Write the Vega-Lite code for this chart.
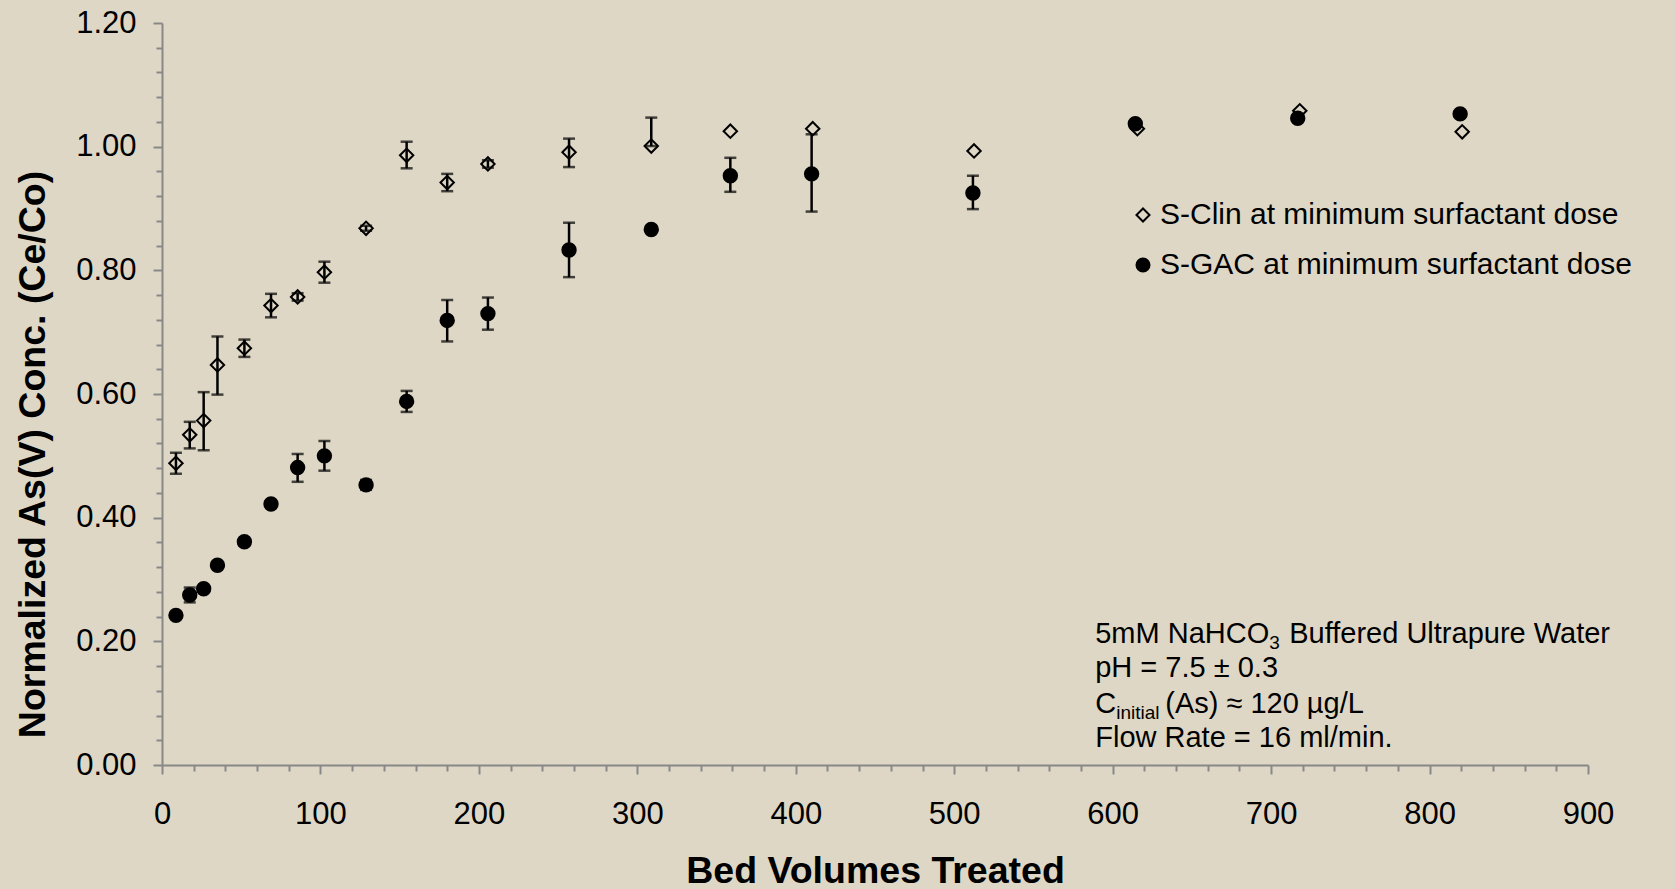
{
  "$schema": "https://vega.github.io/schema/vega-lite/v6.json",
  "width": 1426,
  "height": 742,
  "autosize": "none",
  "padding": {"left": 162, "top": 23, "right": 87, "bottom": 124},
  "background": "#DED7C5",
  "config": {
    "view": {"stroke": null},
    "font": "Liberation Sans",
    "errorbar": {"thickness": 2.5},
    "axis": {
      "grid": false,
      "domainColor": "#888888",
      "domainWidth": 2,
      "tickColor": "#888888",
      "tickWidth": 2,
      "labelColor": "#000000",
      "labelFont": "Liberation Sans",
      "labelFontSize": 31,
      "labelOverlap": false,
      "labelBound": false,
      "labelFlush": false,
      "titleColor": "#000000",
      "titleFont": "Liberation Sans",
      "titleFontWeight": "bold",
      "titleFontSize": 37.5
    }
  },
  "datasets": {
    "pts": [
      {"series": "S-Clin at minimum surfactant dose", "bv": 8.8, "conc": 0.488, "lo": 0.471, "hi": 0.505},
      {"series": "S-Clin at minimum surfactant dose", "bv": 17.5, "conc": 0.534, "lo": 0.512, "hi": 0.555},
      {"series": "S-Clin at minimum surfactant dose", "bv": 26.3, "conc": 0.557, "lo": 0.509, "hi": 0.603},
      {"series": "S-Clin at minimum surfactant dose", "bv": 35, "conc": 0.647, "lo": 0.599, "hi": 0.693},
      {"series": "S-Clin at minimum surfactant dose", "bv": 52, "conc": 0.674, "lo": 0.660, "hi": 0.688},
      {"series": "S-Clin at minimum surfactant dose", "bv": 68.8, "conc": 0.743, "lo": 0.724, "hi": 0.762},
      {"series": "S-Clin at minimum surfactant dose", "bv": 85.6, "conc": 0.757, "lo": 0.751, "hi": 0.763},
      {"series": "S-Clin at minimum surfactant dose", "bv": 102.5, "conc": 0.797, "lo": 0.780, "hi": 0.814},
      {"series": "S-Clin at minimum surfactant dose", "bv": 128.8, "conc": 0.868, "lo": 0.864, "hi": 0.872},
      {"series": "S-Clin at minimum surfactant dose", "bv": 154.4, "conc": 0.986, "lo": 0.965, "hi": 1.008},
      {"series": "S-Clin at minimum surfactant dose", "bv": 180, "conc": 0.942, "lo": 0.928, "hi": 0.956},
      {"series": "S-Clin at minimum surfactant dose", "bv": 205.7, "conc": 0.972, "lo": 0.966, "hi": 0.978},
      {"series": "S-Clin at minimum surfactant dose", "bv": 256.9, "conc": 0.991, "lo": 0.967, "hi": 1.013},
      {"series": "S-Clin at minimum surfactant dose", "bv": 308.8, "conc": 1.001, "lo": 1.001, "hi": 1.047},
      {"series": "S-Clin at minimum surfactant dose", "bv": 358.7, "conc": 1.025, "lo": null, "hi": null},
      {"series": "S-Clin at minimum surfactant dose", "bv": 410.7, "conc": 1.029, "lo": null, "hi": null},
      {"series": "S-Clin at minimum surfactant dose", "bv": 512.5, "conc": 0.993, "lo": null, "hi": null},
      {"series": "S-Clin at minimum surfactant dose", "bv": 615.6, "conc": 1.029, "lo": null, "hi": null},
      {"series": "S-Clin at minimum surfactant dose", "bv": 718.1, "conc": 1.058, "lo": null, "hi": null},
      {"series": "S-Clin at minimum surfactant dose", "bv": 820.6, "conc": 1.024, "lo": null, "hi": null},
      {"series": "S-GAC at minimum surfactant dose", "bv": 8.8, "conc": 0.242, "lo": null, "hi": null},
      {"series": "S-GAC at minimum surfactant dose", "bv": 17.5, "conc": 0.275, "lo": 0.263, "hi": 0.287},
      {"series": "S-GAC at minimum surfactant dose", "bv": 26.3, "conc": 0.285, "lo": null, "hi": null},
      {"series": "S-GAC at minimum surfactant dose", "bv": 35, "conc": 0.323, "lo": null, "hi": null},
      {"series": "S-GAC at minimum surfactant dose", "bv": 52, "conc": 0.361, "lo": 0.355, "hi": 0.367},
      {"series": "S-GAC at minimum surfactant dose", "bv": 68.8, "conc": 0.422, "lo": null, "hi": null},
      {"series": "S-GAC at minimum surfactant dose", "bv": 85.6, "conc": 0.481, "lo": 0.458, "hi": 0.503},
      {"series": "S-GAC at minimum surfactant dose", "bv": 102.5, "conc": 0.500, "lo": 0.476, "hi": 0.524},
      {"series": "S-GAC at minimum surfactant dose", "bv": 128.8, "conc": 0.453, "lo": 0.445, "hi": 0.461},
      {"series": "S-GAC at minimum surfactant dose", "bv": 154.4, "conc": 0.588, "lo": 0.571, "hi": 0.605},
      {"series": "S-GAC at minimum surfactant dose", "bv": 180, "conc": 0.719, "lo": 0.685, "hi": 0.752},
      {"series": "S-GAC at minimum surfactant dose", "bv": 205.7, "conc": 0.730, "lo": 0.704, "hi": 0.756},
      {"series": "S-GAC at minimum surfactant dose", "bv": 256.9, "conc": 0.833, "lo": 0.789, "hi": 0.877},
      {"series": "S-GAC at minimum surfactant dose", "bv": 308.8, "conc": 0.866, "lo": 0.861, "hi": 0.871},
      {"series": "S-GAC at minimum surfactant dose", "bv": 358.7, "conc": 0.953, "lo": 0.927, "hi": 0.982},
      {"series": "S-GAC at minimum surfactant dose", "bv": 410.0, "conc": 0.956, "lo": 0.895, "hi": 1.020},
      {"series": "S-GAC at minimum surfactant dose", "bv": 511.8, "conc": 0.925, "lo": 0.899, "hi": 0.953},
      {"series": "S-GAC at minimum surfactant dose", "bv": 614.3, "conc": 1.037, "lo": null, "hi": null},
      {"series": "S-GAC at minimum surfactant dose", "bv": 716.8, "conc": 1.046, "lo": null, "hi": null},
      {"series": "S-GAC at minimum surfactant dose", "bv": 819.3, "conc": 1.053, "lo": null, "hi": null}
    ]
  },
  "layer": [
    {
      "data": {"name": "pts"},
      "transform": [{"filter": "datum.lo != null"}],
      "mark": {
        "type": "errorbar",
        "thickness": 2.5,
        "color": "#000000",
        "ticks": {"size": 12, "thickness": 2.5, "color": "#000000"},
        "rule": {"strokeWidth": 2.5, "color": "#000000"}
      },
      "encoding": {
        "x": {
          "field": "bv", "type": "quantitative",
          "scale": {"domain": [0, 900], "nice": false, "zero": false},
          "axis": {
            "title": "Bed Volumes Treated",
            "values": [0,20,40,60,80,100,120,140,160,180,200,220,240,260,280,300,320,340,360,380,400,420,440,460,480,500,520,540,560,580,600,620,640,660,680,700,720,740,760,780,800,820,840,860,880,900],
            "tickCount": 1000,
            "labelExpr": "round(datum.value) % 100 == 0 ? format(datum.value, 'd') : ''",
            "labelOverlap": false,
            "tickSize": {"condition": {"test": "round(datum.value) % 100 == 0", "value": 9}, "value": 6},
            "labelPadding": 25,
            "titleY": 106,
            "titleBaseline": "middle"
          }
        },
        "y": {
          "field": "lo", "type": "quantitative",
          "scale": {"domain": [0, 1.2], "nice": false, "zero": false},
          "axis": {
            "title": "Normalized As(V) Conc. (Ce/Co)",
            "values": [0,0.04,0.08,0.12,0.16,0.2,0.24,0.28,0.32,0.36,0.4,0.44,0.48,0.52,0.56,0.6,0.64,0.68,0.72,0.76,0.8,0.84,0.88,0.92,0.96,1,1.04,1.08,1.12,1.16,1.2],
            "tickCount": 1000,
            "labelExpr": "round(datum.value * 100) % 20 == 0 ? format(datum.value, '.2f') : ''",
            "labelOverlap": false,
            "tickSize": {"condition": {"test": "round(datum.value * 100) % 20 == 0", "value": 9}, "value": 6},
            "labelPadding": 17,
            "titleX": -129,
            "titleY": 431,
            "titleAngle": -90,
            "titleAlign": "center",
            "titleBaseline": "middle"
          }
        },
        "y2": {"field": "hi"}
      }
    },
    {
      "data": {"name": "pts"},
      "mark": {"type": "point", "filled": false, "strokeWidth": 2, "opacity": 1},
      "encoding": {
        "x": {"field": "bv", "type": "quantitative"},
        "y": {"field": "conc", "type": "quantitative"},
        "shape": {
          "field": "series", "type": "nominal",
          "scale": {"domain": ["S-Clin at minimum surfactant dose", "S-GAC at minimum surfactant dose"], "range": ["diamond", "circle"]},
          "legend": {
            "title": null,
            "orient": "none",
            "legendX": 966,
            "legendY": 177,
            "padding": 0,
            "labelFont": "Liberation Sans",
            "labelFontSize": 30,
            "labelColor": "#000000",
            "labelOffset": 2,
            "labelLimit": 0,
            "rowPadding": 20,
            "symbolSize": 170,
            "symbolStrokeWidth": 2,
            "encode": {"symbols": {"update": {
              "strokeWidth": {"value": 2},
              "size": {"value": 170},
              "fill": {"signal": "datum.value == 'S-GAC at minimum surfactant dose' ? '#000000' : 'transparent'"}
            }}}
          }
        },
        "stroke": {
          "field": "series", "type": "nominal",
          "scale": {"domain": ["S-Clin at minimum surfactant dose", "S-GAC at minimum surfactant dose"], "range": ["#000000", "#000000"]},
          "legend": {
            "title": null,
            "orient": "none",
            "legendX": 966,
            "legendY": 177,
            "padding": 0,
            "labelFont": "Liberation Sans",
            "labelFontSize": 30,
            "labelColor": "#000000",
            "labelOffset": 2,
            "labelLimit": 0,
            "rowPadding": 20,
            "symbolSize": 170,
            "symbolStrokeWidth": 2,
            "encode": {"symbols": {"update": {
              "strokeWidth": {"value": 2},
              "size": {"value": 170},
              "fill": {"signal": "datum.value == 'S-GAC at minimum surfactant dose' ? '#000000' : 'transparent'"}
            }}}
          }
        },
        "fill": {
          "field": "series", "type": "nominal",
          "scale": {"domain": ["S-Clin at minimum surfactant dose", "S-GAC at minimum surfactant dose"], "range": ["transparent", "#000000"]},
          "legend": null
        },
        "size": {"value": 180}
      }
    },
    {
      "data": {"values": [
        {"bv": 589, "conc": 0.2122, "label": "5mM NaHCO"},
        {"bv": 589, "conc": 0.1564, "label": "pH = 7.5 ± 0.3"},
        {"bv": 589, "conc": 0.099, "label": "C"},
        {"bv": 589, "conc": 0.0439, "label": "Flow Rate = 16 ml/min."}
      ]},
      "mark": {"type": "text", "align": "left", "baseline": "middle", "font": "Liberation Sans", "fontSize": 29, "color": "#000000"},
      "encoding": {
        "x": {"field": "bv", "type": "quantitative"},
        "y": {"field": "conc", "type": "quantitative"},
        "text": {"field": "label"}
      }
    },
    {
      "data": {"values": [{"bv": 589, "conc": 0.2122, "label": "3"}]},
      "mark": {"type": "text", "align": "left", "baseline": "middle", "font": "Liberation Sans", "fontSize": 19, "color": "#000000", "dx": 174, "dy": 9},
      "encoding": {
        "x": {"field": "bv", "type": "quantitative"},
        "y": {"field": "conc", "type": "quantitative"},
        "text": {"field": "label"}
      }
    },
    {
      "data": {"values": [{"bv": 589, "conc": 0.2122, "label": "Buffered Ultrapure Water"}]},
      "mark": {"type": "text", "align": "left", "baseline": "middle", "font": "Liberation Sans", "fontSize": 29, "color": "#000000", "dx": 194},
      "encoding": {
        "x": {"field": "bv", "type": "quantitative"},
        "y": {"field": "conc", "type": "quantitative"},
        "text": {"field": "label"}
      }
    },
    {
      "data": {"values": [{"bv": 589, "conc": 0.099, "label": "initial"}]},
      "mark": {"type": "text", "align": "left", "baseline": "middle", "font": "Liberation Sans", "fontSize": 19, "color": "#000000", "dx": 21, "dy": 9},
      "encoding": {
        "x": {"field": "bv", "type": "quantitative"},
        "y": {"field": "conc", "type": "quantitative"},
        "text": {"field": "label"}
      }
    },
    {
      "data": {"values": [{"bv": 589, "conc": 0.099, "label": "(As) ≈ 120 µg/L"}]},
      "mark": {"type": "text", "align": "left", "baseline": "middle", "font": "Liberation Sans", "fontSize": 29, "color": "#000000", "dx": 70},
      "encoding": {
        "x": {"field": "bv", "type": "quantitative"},
        "y": {"field": "conc", "type": "quantitative"},
        "text": {"field": "label"}
      }
    }
  ]
}
